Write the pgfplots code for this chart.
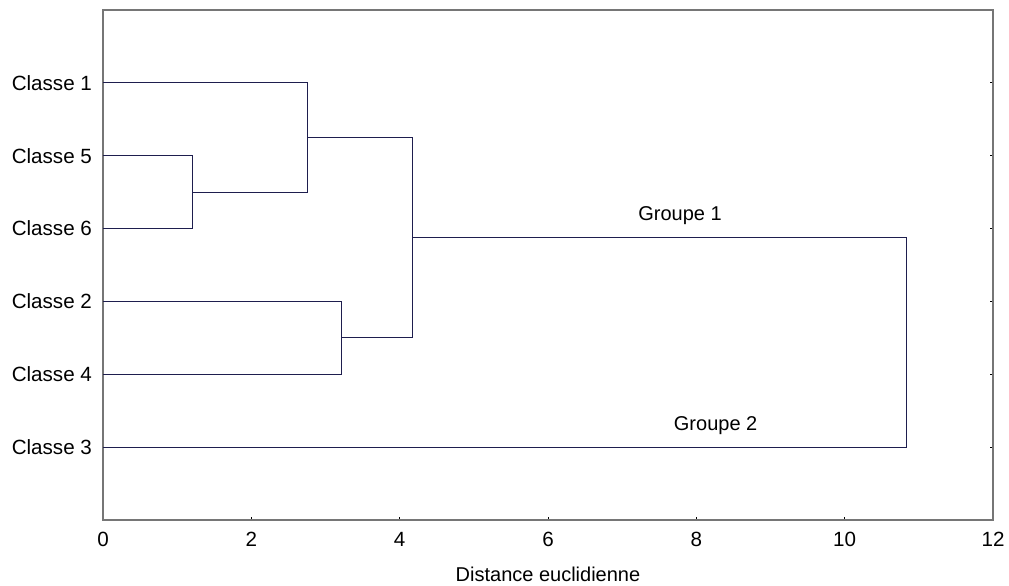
\documentclass[border=0pt]{standalone}
\usepackage{pgfplots}
\pgfplotsset{compat=1.18}
\usepackage{fontspec}
\setmainfont{Liberation Sans}
\definecolor{dend}{HTML}{1E1E4E}
\definecolor{axgray}{HTML}{767676}
\begin{document}
\begin{tikzpicture}
\begin{axis}[
  scale only axis, width=445pt, height=255pt,
  xmin=0, xmax=12, ymin=0, ymax=7,
  xtick={0,2,4,6,8,10,12},
  ytick={1,2,3,4,5,6},
  yticklabels={Classe 3,Classe 4,Classe 2,Classe 6,Classe 5,Classe 1},
  xtick pos=bottom, ytick pos=both, yticklabel pos=left,
  tick align=inside, major tick length=1.6pt,
  tick style={black, line width=0.5pt},
  axis line style={axgray, line width=0.8pt},
  ticklabel style={font=\fontsize{10.3}{12}\selectfont},
  xticklabel style={yshift=-2.5pt},
  /pgf/number format/assume math mode=true,
  xlabel={Distance euclidienne},
  xlabel style={font=\fontsize{10}{12}\selectfont, yshift=-3.5pt},
  yticklabel style={xshift=-2pt},
  clip=false,
]
\addplot[dend, line width=0.5pt] coordinates {(0,5) (1.2,5) (1.2,4) (0,4)};
\addplot[dend, line width=0.5pt] coordinates {(0,6) (2.76,6) (2.76,4.5) (1.2,4.5)};
\addplot[dend, line width=0.5pt] coordinates {(0,3) (3.22,3) (3.22,2) (0,2)};
\addplot[dend, line width=0.5pt] coordinates {(2.76,5.25) (4.17,5.25) (4.17,2.5) (3.22,2.5)};
\addplot[dend, line width=0.5pt] coordinates {(4.17,3.875) (10.83,3.875) (10.83,1) (0,1)};
\node[font=\fontsize{10}{12}\selectfont] at (axis cs:7.78,4.18) {Groupe 1};
\node[font=\fontsize{10}{12}\selectfont] at (axis cs:8.26,1.30) {Groupe 2};
\end{axis}
\pgfresetboundingbox
\path ([shift={(-51.5pt,-33pt)}]current axis.south west) rectangle ([shift={(8pt,5pt)}]current axis.north east);
\end{tikzpicture}
\end{document}
